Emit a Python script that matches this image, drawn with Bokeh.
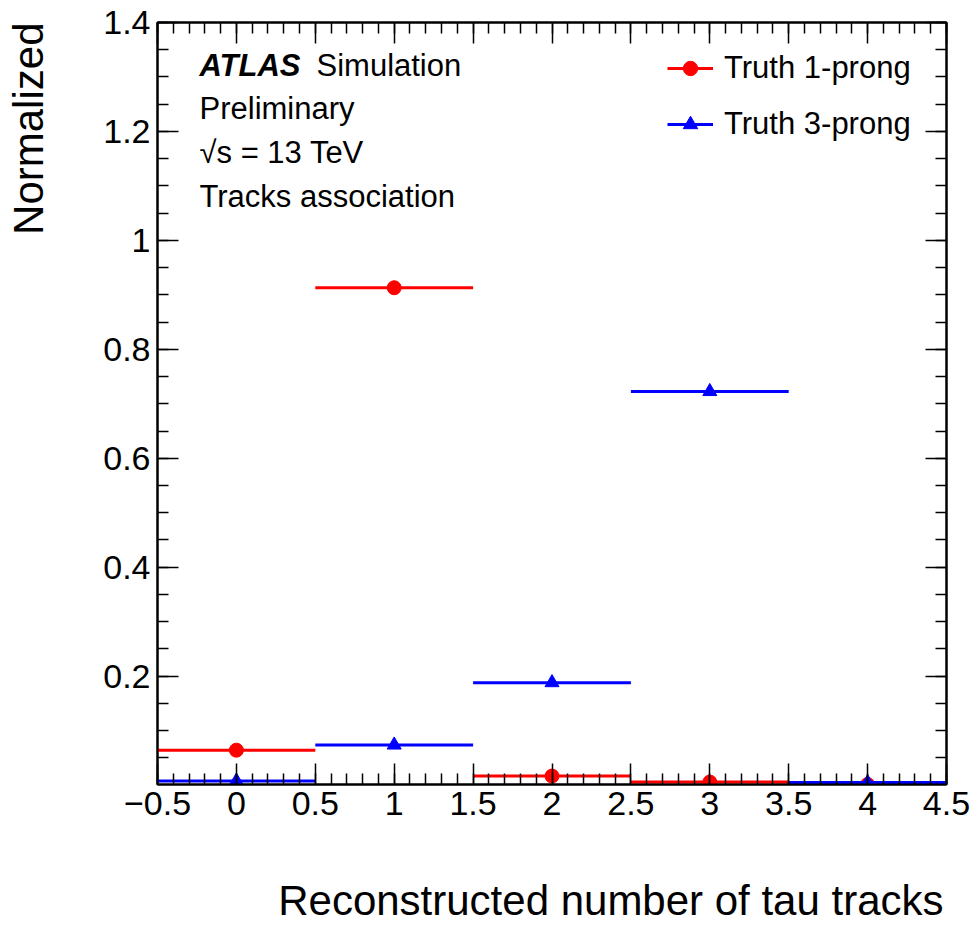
import numpy as np
from bokeh.plotting import figure
from bokeh.layouts import row, column
from bokeh.models import (Range1d, FixedTicker, LinearAxis, Label, Legend,
                          LegendItem, CustomJSTickFormatter, ColumnDataSource)
from bokeh.embed import file_html
from bokeh.resources import INLINE

# Reconstructed number of tau tracks (bin centres), unit-width bins
n_tracks = [0, 1, 2, 3, 4]
bin_half_width = 0.5

# Normalized fractions per truth decay mode
truth_1prong = [0.064, 0.913, 0.0165, 0.0055, 0.001]
truth_3prong = [0.0075, 0.0735, 0.188, 0.7225, 0.0045]

x_tick_values = [-0.5, 0, 0.5, 1, 1.5, 2, 2.5, 3, 3.5, 4, 4.5]
y_tick_values = [0.2, 0.4, 0.6, 0.8, 1.0, 1.2, 1.4]

FONT = "Liberation Sans"

# Page layout: a strip for the y title, the plot, and a strip for the x title
PAGE_W, PAGE_H = 974, 925
YSTRIP_W = 80
MAIN_W, MAIN_H = PAGE_W - YSTRIP_W, 850
XSTRIP_H = PAGE_H - MAIN_H

FRAME_LEFT = 157      # page x of the frame's left edge
FRAME_BOTTOM = 784    # page y of the frame's bottom edge

p = figure(width=MAIN_W, height=MAIN_H, output_backend="svg",
           toolbar_location=None,
           x_range=Range1d(-0.5, 4.5), y_range=Range1d(0.001, 1.4),
           min_border_left=FRAME_LEFT - YSTRIP_W, min_border_right=28,
           min_border_top=22, min_border_bottom=MAIN_H - FRAME_BOTTOM)
p.grid.visible = False
p.outline_line_color = "black"
p.outline_line_width = 2
p.background_fill_color = "white"
p.border_fill_color = "white"

x_minor = [round(v, 2) for v in np.arange(-0.5, 4.5001, 0.1)]
y_minor = [round(v, 3) for v in np.arange(0.05, 1.4001, 0.05)]
x_ticker = FixedTicker(ticks=x_tick_values, minor_ticks=x_minor)
y_ticker = FixedTicker(ticks=y_tick_values, minor_ticks=y_minor)

fmt = CustomJSTickFormatter(code="return tick.toString().replace('-', '\u2212');")


def style_axis(ax, ticker, show_labels):
    ax.ticker = ticker
    ax.major_tick_in = 21
    ax.major_tick_out = 0
    ax.minor_tick_in = 11
    ax.minor_tick_out = 0
    ax.axis_line_width = 2
    ax.major_tick_line_width = 1.5
    ax.minor_tick_line_width = 1.5
    ax.axis_line_color = "black"
    ax.major_tick_line_color = "black"
    ax.minor_tick_line_color = "black"
    ax.formatter = fmt
    if show_labels:
        ax.major_label_text_font = FONT
        ax.major_label_text_font_size = "34px"
        ax.major_label_text_color = "black"
        ax.major_label_standoff = 7
    else:
        ax.major_label_text_font_size = "0px"
        ax.major_label_text_alpha = 0
        ax.major_label_standoff = 0


style_axis(p.xaxis[0], x_ticker, True)
style_axis(p.yaxis[0], y_ticker, True)

top_axis = LinearAxis()
right_axis = LinearAxis()
style_axis(top_axis, x_ticker, False)
style_axis(right_axis, y_ticker, False)
p.add_layout(top_axis, "above")
p.add_layout(right_axis, "right")

# Horizontal bars span each bin; markers sit at the bin centre
def series_source(values):
    x = np.array(n_tracks, dtype=float)
    return ColumnDataSource(dict(x=x, x0=x - bin_half_width,
                                 x1=x + bin_half_width, y=values))

src1 = series_source(truth_1prong)
src3 = series_source(truth_3prong)

seg1 = p.segment(x0="x0", x1="x1", y0="y", y1="y", source=src1,
                 line_color="#ff0000", line_width=3)
mk1 = p.scatter(x="x", y="y", source=src1, marker="circle", size=14,
                fill_color="#ff0000", line_color="#ff0000")
seg3 = p.segment(x0="x0", x1="x1", y0="y", y1="y", source=src3,
                 line_color="#0000ff", line_width=3)
mk3 = p.scatter(x="x", y="y", source=src3, marker="triangle", size=14,
                fill_color="#0000ff", line_color="#0000ff")

legend = Legend(items=[LegendItem(label="Truth 1-prong", renderers=[seg1, mk1]),
                       LegendItem(label="Truth 3-prong", renderers=[seg3, mk3])],
                location=(510, 642), orientation="vertical",
                glyph_width=46, glyph_height=36, label_height=36,
                label_standoff=11, spacing=20, padding=0, margin=0,
                border_line_alpha=0, background_fill_alpha=0,
                label_text_font=FONT, label_text_font_size="31px",
                label_text_color="black")
p.add_layout(legend)


def add_text(text, cx, cy_baseline, size="31px", style="normal"):
    p.add_layout(Label(x=cx - FRAME_LEFT, y=FRAME_BOTTOM - cy_baseline,
                       x_units="screen", y_units="screen", text=text,
                       text_font=FONT, text_font_size=size,
                       text_font_style=style, text_color="black",
                       text_baseline="alphabetic", text_align="left"))


add_text("ATLAS", 199, 65, style="bold italic")
add_text("Simulation", 316, 65)
add_text("Preliminary", 199, 108)
add_text("\u221as = 13 TeV", 199, 152)
add_text("Tracks association", 199, 196)


def title_strip(w, h):
    f = figure(width=w, height=h, output_backend="svg", toolbar_location=None,
               x_range=Range1d(0, w), y_range=Range1d(0, h),
               x_axis_type=None, y_axis_type=None,
               min_border=0, min_border_left=0, min_border_right=0,
               min_border_top=0, min_border_bottom=0)
    f.grid.visible = False
    f.outline_line_color = None
    f.background_fill_color = "white"
    f.border_fill_color = "white"
    return f


# y-axis title, reading upwards, ending at the top of the frame
ystrip = title_strip(YSTRIP_W, PAGE_H)
ystrip.add_layout(Label(x=28, y=PAGE_H - 22, x_units="screen",
                        y_units="screen", text="Normalized", angle=np.pi / 2,
                        text_font=FONT, text_font_size="42px",
                        text_color="black", text_baseline="middle",
                        text_align="right"))

# x-axis title, ending at the right edge of the frame; the strip's frame
# lines up with the plot frame above it
xstrip = title_strip(MAIN_W, XSTRIP_H)
xstrip.add_layout(Label(x=943 - FRAME_LEFT, y=PAGE_H - 900, x_units="screen",
                        y_units="screen",
                        text="Reconstructed number of tau tracks",
                        text_font=FONT, text_font_size="42px",
                        text_color="black", text_baseline="middle",
                        text_align="right"))

page = row(ystrip, column(p, xstrip, spacing=0), spacing=0)

open("out.html", "w").write(file_html(page, INLINE))
